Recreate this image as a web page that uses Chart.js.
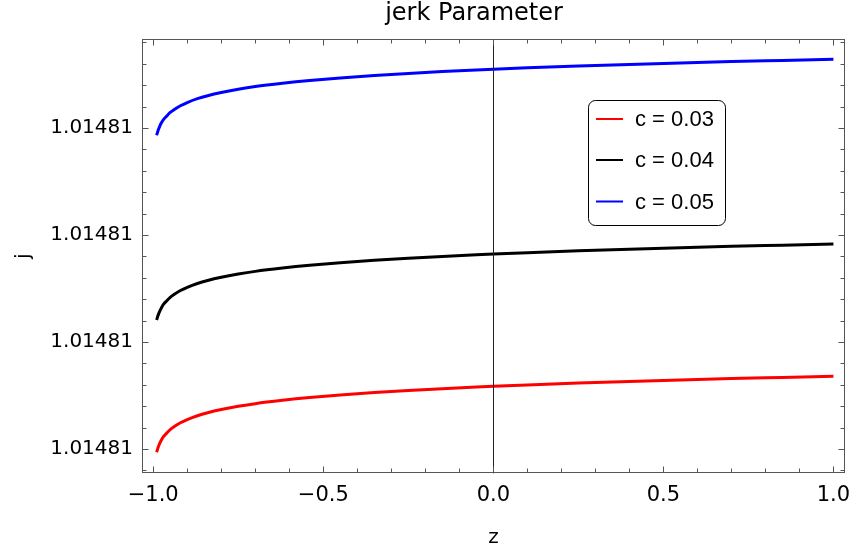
<!DOCTYPE html>
<html>
<head>
<meta charset="utf-8">
<script src="https://cdn.jsdelivr.net/npm/chart.js@4.4.1/dist/chart.umd.min.js"></script>
<style>
  html, body { margin: 0; padding: 0; background: #ffffff; }
  #wrap { width: 850px; height: 546px; }
</style>
</head>
<body>
<div id="wrap"><canvas id="c" width="850" height="546"></canvas></div>
<script>
// ---- data ----
// y values are offsets in units of one major tick step; every major tick reads "1.01481"
const zValues = [-0.99, -0.985, -0.98, -0.975, -0.97, -0.96, -0.95, -0.94, -0.92, -0.90, -0.87, -0.84, -0.80, -0.75, -0.70, -0.62, -0.54, -0.45, -0.35, -0.25, -0.15, -0.05, 0, 0.1, 0.25, 0.4, 0.55, 0.7, 0.85, 1.0];
const jC003 = [-0.03, 0.02, 0.06, 0.09, 0.115, 0.15, 0.182, 0.206, 0.245, 0.275, 0.311, 0.339, 0.369, 0.399, 0.424, 0.455, 0.481, 0.505, 0.528, 0.547, 0.564, 0.579, 0.586, 0.599, 0.616, 0.631, 0.645, 0.658, 0.669, 0.680];
const jC004 = [1.206, 1.256, 1.294, 1.324, 1.351, 1.386, 1.418, 1.442, 1.481, 1.511, 1.547, 1.575, 1.605, 1.635, 1.660, 1.691, 1.717, 1.741, 1.764, 1.783, 1.800, 1.815, 1.822, 1.835, 1.852, 1.867, 1.881, 1.894, 1.905, 1.916];
const jC005 = [2.933, 2.983, 3.023, 3.053, 3.078, 3.113, 3.145, 3.169, 3.208, 3.238, 3.274, 3.302, 3.332, 3.362, 3.387, 3.418, 3.444, 3.468, 3.491, 3.510, 3.527, 3.542, 3.549, 3.562, 3.579, 3.594, 3.608, 3.621, 3.632, 3.643];
const seriesLabels = ['c = 0.03', 'c = 0.04', 'c = 0.05'];
const seriesColors = ['#ff0000', '#000000', '#0000ff'];
const xTickValues = [-1, -0.5, 0, 0.5, 1];
const xTickLabels = ['\u22121.0', '\u22120.5', '0.0', '0.5', '1.0'];
const yTickValues = [0, 1, 2, 3];
const yTickLabels = ['1.01481', '1.01481', '1.01481', '1.01481'];
const titleText = 'jerk Parameter';
const xTitle = 'z';
const yTitle = 'j';

const seriesValues = [jC003, jC004, jC005];
const datasets = seriesValues.map((vals, i) => ({
  label: seriesLabels[i],
  data: zValues.map((z, k) => ({ x: z, y: vals[k] })),
  borderColor: seriesColors[i],
  backgroundColor: seriesColors[i],
  borderWidth: 3,
  pointRadius: 0,
  cubicInterpolationMode: 'monotone',
  fill: false
}));

const FONT = 'DejaVu Sans';
const frameColor = '#555555';

// title drawn as text above the frame
const titlePlugin = {
  id: 'topTitle',
  afterDraw(chart) {
    const ctx = chart.ctx;
    ctx.save();
    ctx.font = '24px "' + FONT + '"';
    ctx.fillStyle = '#000000';
    ctx.textAlign = 'center';
    ctx.textBaseline = 'middle';
    ctx.fillText(titleText, 474, 14);
    ctx.restore();
  }
};

// frame, inward ticks, zero line
const framePlugin = {
  id: 'framePlugin',
  afterDatasetsDraw(chart) {
    const ctx = chart.ctx;
    const a = chart.chartArea;
    const xs = chart.scales.x, ys = chart.scales.y;
    ctx.save();
    const x0 = Math.round(xs.getPixelForValue(0)) + 0.5;
    ctx.strokeStyle = '#222222';
    ctx.lineWidth = 1;
    ctx.beginPath();
    ctx.moveTo(x0, a.top);
    ctx.lineTo(x0, a.bottom);
    ctx.stroke();

    ctx.strokeStyle = frameColor;
    ctx.lineWidth = 1;
    const L = Math.round(a.left) + 0.5, R = Math.round(a.right) - 0.5;
    const T = Math.round(a.top) + 0.5, B = Math.round(a.bottom) - 0.5;
    ctx.strokeRect(L, T, R - L, B - T);

    ctx.beginPath();
    for (let i = -10; i <= 10; i++) {
      const v = i / 10;
      const px = Math.round(xs.getPixelForValue(v)) + 0.5;
      const len = (i % 5 === 0) ? 6 : 4;
      ctx.moveTo(px, B); ctx.lineTo(px, B - len);
      ctx.moveTo(px, T); ctx.lineTo(px, T + len);
    }
    for (let i = -1; i <= 19; i++) {
      const v = i / 5;
      const py = Math.round(ys.getPixelForValue(v)) + 0.5;
      const len = (i % 5 === 0) ? 6 : 4;
      ctx.moveTo(L, py); ctx.lineTo(L + len, py);
      ctx.moveTo(R, py); ctx.lineTo(R - len, py);
    }
    ctx.stroke();
    ctx.restore();
  }
};

// legend box inside plot
const legendPlugin = {
  id: 'boxLegend',
  afterDraw(chart) {
    const ctx = chart.ctx;
    ctx.save();
    const bx = 588.5, by = 100.5, bw = 137, bh = 125, r = 7;
    ctx.fillStyle = '#ffffff';
    ctx.strokeStyle = '#000000';
    ctx.lineWidth = 1;
    ctx.beginPath();
    ctx.moveTo(bx + r, by);
    ctx.lineTo(bx + bw - r, by);
    ctx.arcTo(bx + bw, by, bx + bw, by + r, r);
    ctx.lineTo(bx + bw, by + bh - r);
    ctx.arcTo(bx + bw, by + bh, bx + bw - r, by + bh, r);
    ctx.lineTo(bx + r, by + bh);
    ctx.arcTo(bx, by + bh, bx, by + bh - r, r);
    ctx.lineTo(bx, by + r);
    ctx.arcTo(bx, by, bx + r, by, r);
    ctx.closePath();
    ctx.fill();
    ctx.stroke();
    const rows = [119, 160, 201.5];
    ctx.font = '22px "Liberation Sans", Arial, sans-serif';
    ctx.textBaseline = 'middle';
    ctx.textAlign = 'left';
    chart.data.datasets.forEach((ds, i) => {
      const y = rows[i];
      ctx.strokeStyle = ds.borderColor;
      ctx.lineWidth = 2;
      ctx.beginPath();
      ctx.moveTo(596, y);
      ctx.lineTo(623, y);
      ctx.stroke();
      ctx.fillStyle = '#000000';
      ctx.fillText(ds.label, 635, y + 1);
    });
    ctx.restore();
  }
};

new Chart(document.getElementById('c'), {
  type: 'line',
  data: { datasets },
  options: {
    responsive: false,
    animation: false,
    devicePixelRatio: 1,
    layout: { padding: { left: 0, right: 5, top: 39.3, bottom: 0 } },
    plugins: {
      legend: { display: false },
      tooltip: { enabled: false },
      title: { display: false }
    },
    scales: {
      x: {
        type: 'linear',
        position: 'bottom',
        min: -1.033,
        max: 1.034,
        grid: { display: false, drawTicks: false },
        border: { display: false },
        afterBuildTicks(scale) { scale.ticks = xTickValues.map(v => ({ value: v })); },
        afterFit(scale) {
          scale.height = 546 - 473.3;
          scale.paddingLeft = 0;
          scale.paddingRight = 0;
        },
        ticks: {
          autoSkip: false,
          maxRotation: 0,
          padding: 10,
          color: '#000000',
          font: { family: FONT, size: 21 },
          callback(value, index) { return xTickLabels[index]; }
        },
        title: {
          display: true,
          text: xTitle,
          color: '#000000',
          font: { family: FONT, size: 20 },
          padding: { top: 0, bottom: -4 }
        }
      },
      y: {
        type: 'linear',
        position: 'left',
        min: -0.227,
        max: 3.829,
        grid: { display: false, drawTicks: false },
        border: { display: false },
        afterBuildTicks(scale) { scale.ticks = yTickValues.map(v => ({ value: v })); },
        afterFit(scale) {
          scale.width = 142;
          scale.paddingTop = 0;
          scale.paddingBottom = 0;
        },
        ticks: {
          autoSkip: false,
          padding: 9,
          color: '#000000',
          font: { family: FONT, size: 20 },
          callback(value, index) { return yTickLabels[index]; }
        },
        title: {
          display: true,
          text: yTitle,
          color: '#000000',
          font: { family: FONT, size: 20 },
          padding: { top: 12, bottom: 0 }
        }
      }
    }
  },
  plugins: [framePlugin, legendPlugin, titlePlugin]
});
</script>
</body>
</html>
